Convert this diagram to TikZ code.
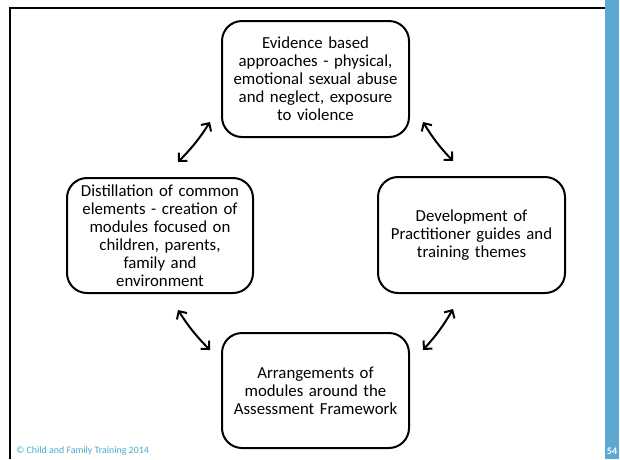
\documentclass[tikz,border=0pt]{standalone}
\usepackage{fontspec}
\setmainfont{Carlito}
\usetikzlibrary{arrows.meta}
\definecolor{stripe}{RGB}{92,168,208}
\definecolor{footer}{RGB}{75,170,205}
\begin{document}
\begin{tikzpicture}[x=1pt,y=-1pt,
  stagebox/.style={draw,line width=2pt,rounded corners=20pt,align=center,
    font=\fontsize{16.8}{18}\selectfont,inner sep=0pt},
  cyclearrow/.style={line width=2pt,{Straight Barb[length=6pt,width=12pt,line width=2pt]}-{Straight Barb[length=6pt,width=12pt,line width=2pt]}}]
\useasboundingbox (0,0) rectangle (620,459);
\fill[white] (0,0) rectangle (620,459);
% slide frame and side stripe
\fill[stripe] (605,0) rectangle (619,459);
\draw[line width=2pt] (10,459) -- (10,8) -- (605,8);
\node[text=white,font=\fontsize{10}{11}\bfseries\selectfont] (pagenum) at (612,451) {54};
\node[text=footer,font=\fontsize{9.9}{11}\selectfont,anchor=west,inner sep=0pt] (foot) at (16,451) {© Child and Family Training 2014};
% the four stages
\node[stagebox,minimum width=187pt,minimum height=116pt,text width=180pt] (top) at (315.5,79)
  {Evidence based\\approaches - physical,\\emotional sexual abuse\\and neglect, exposure\\to violence};
\node[stagebox,minimum width=186pt,minimum height=115pt,text width=180pt] (left) at (160,235.5)
  {Distillation of common\\elements - creation of\\modules focused on\\children, parents,\\family and\\environment};
\node[stagebox,minimum width=187pt,minimum height=116pt,text width=180pt] (right) at (471.5,235)
  {Development of\\Practitioner guides and\\training themes};
\node[stagebox,minimum width=187pt,minimum height=115pt,text width=180pt] (bottom) at (315.5,390.5)
  {Arrangements of\\modules around the\\Assessment Framework};
% arrow end points between neighbouring stages
\coordinate (tl1) at (210,122);
\coordinate (tl2) at (178,162);
\coordinate (tr1) at (423,122);
\coordinate (tr2) at (453,161);
\coordinate (bl1) at (178,310);
\coordinate (bl2) at (210,350);
\coordinate (br1) at (453,309);
\coordinate (br2) at (423,350);
\draw[cyclearrow] (tl1) to[bend left=6] (tl2);
\draw[cyclearrow] (tr1) to[bend right=6] (tr2);
\draw[cyclearrow] (bl1) to[bend right=6] (bl2);
\draw[cyclearrow] (br1) to[bend left=6] (br2);
\end{tikzpicture}
\end{document}
